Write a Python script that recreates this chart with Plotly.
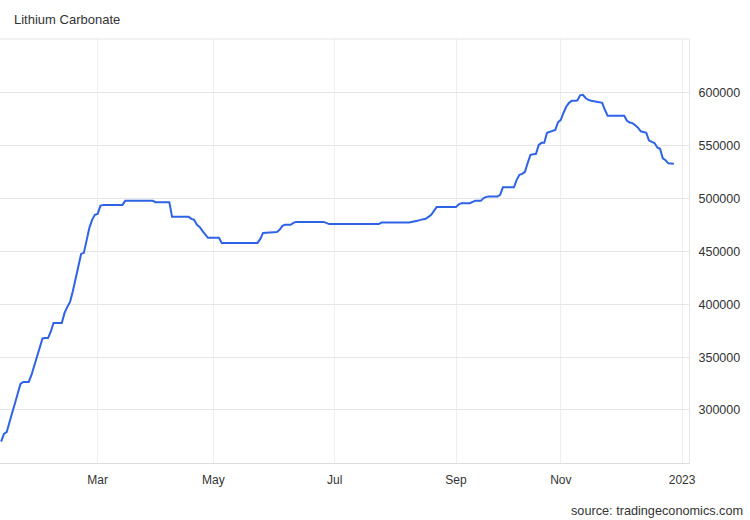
import plotly.graph_objects as go

title_text = "Lithium Carbonate"
source_text = "source: tradingeconomics.com"

dates = [
    "2022-01-04", "2022-01-05", "2022-01-06", "2022-01-07", "2022-01-10", "2022-01-11",
    "2022-01-12", "2022-01-13", "2022-01-14", "2022-01-17", "2022-01-18", "2022-01-19",
    "2022-01-20", "2022-01-21", "2022-01-24", "2022-01-25", "2022-01-26", "2022-01-27",
    "2022-01-28", "2022-02-07", "2022-02-10", "2022-02-11", "2022-02-14", "2022-02-15",
    "2022-02-16", "2022-02-17", "2022-02-18", "2022-02-21", "2022-02-22", "2022-02-23",
    "2022-02-24", "2022-02-25", "2022-02-28", "2022-03-01", "2022-03-02", "2022-03-03",
    "2022-03-14", "2022-03-15", "2022-03-29", "2022-03-30", "2022-04-08", "2022-04-11",
    "2022-04-19", "2022-04-20", "2022-04-21", "2022-04-22", "2022-04-25", "2022-04-26",
    "2022-04-27", "2022-04-28", "2022-05-04", "2022-05-05", "2022-05-24", "2022-05-25",
    "2022-05-26", "2022-06-02", "2022-06-03", "2022-06-06", "2022-06-07", "2022-06-09",
    "2022-06-10", "2022-06-13", "2022-06-27", "2022-06-28", "2022-06-29", "2022-07-25",
    "2022-07-26", "2022-08-09", "2022-08-10", "2022-08-11", "2022-08-12", "2022-08-15",
    "2022-08-16", "2022-08-17", "2022-08-18", "2022-08-19", "2022-08-22", "2022-08-23",
    "2022-09-01", "2022-09-02", "2022-09-05", "2022-09-08", "2022-09-09", "2022-09-12",
    "2022-09-14", "2022-09-15", "2022-09-16", "2022-09-19", "2022-09-22", "2022-09-23",
    "2022-09-26", "2022-09-30", "2022-10-10", "2022-10-11", "2022-10-12", "2022-10-13",
    "2022-10-14", "2022-10-17", "2022-10-19", "2022-10-20", "2022-10-21", "2022-10-24",
    "2022-10-25", "2022-10-26", "2022-10-27", "2022-10-28", "2022-10-31", "2022-11-01",
    "2022-11-02", "2022-11-03", "2022-11-04", "2022-11-07", "2022-11-08", "2022-11-09",
    "2022-11-10", "2022-11-11", "2022-11-14", "2022-11-15", "2022-11-16", "2022-11-17",
    "2022-11-18", "2022-11-21", "2022-11-22", "2022-11-23", "2022-11-24", "2022-12-02",
    "2022-12-05", "2022-12-06", "2022-12-07", "2022-12-08", "2022-12-09", "2022-12-12",
    "2022-12-13", "2022-12-14", "2022-12-15", "2022-12-16", "2022-12-19", "2022-12-20",
    "2022-12-21", "2022-12-22", "2022-12-23", "2022-12-26", "2022-12-27", "2022-12-28",
]

prices = [
    270000, 277300, 279000, 289100, 297400, 306100,
    314500, 324600, 326500, 326500, 326500, 333100,
    341700, 350200, 359200, 367700, 368000, 368000,
    374000, 382400, 382400, 391900, 397500, 402300,
    412300, 424500, 437300, 447700, 448700, 461000,
    472400, 479900, 484700, 485600, 493200, 494100,
    494100, 497900, 497900, 496700, 496700, 482800,
    482800, 480900, 479900, 475200, 473300, 469500,
    465700, 462900, 462900, 458100, 458100, 461900,
    467600, 468500, 470500, 474200, 475200, 475200,
    477100, 478000, 478000, 476600, 475900, 475900,
    477400, 477400, 477700, 478500, 479000, 479900,
    480400, 480900, 482800, 484700, 488400, 492200,
    492200, 494600, 495700, 495700, 497000, 497900,
    497900, 500500, 501700, 502000, 502000, 503600,
    510700, 510700, 517800, 522500, 523500, 525400,
    533900, 541500, 542400, 550900, 552800, 552800,
    562300, 563300, 564200, 565100, 572300, 574600,
    581300, 587200, 590700, 592600, 592600, 592900,
    597800, 598300, 595300, 593400, 592600, 592100,
    591900, 591600, 590700, 584100, 578400, 578400,
    573700, 572100, 571500, 569400, 567100, 563700,
    562800, 562300, 555000, 553800, 552600, 548400,
    547200, 538200, 536300, 533400, 533000, 533000,
]

# non-trading days (besides weekends)
holidays = [
    "2022-01-03", "2022-01-31", "2022-02-01", "2022-02-02", "2022-02-03", "2022-02-04",
    "2022-04-04", "2022-04-05",
    "2022-10-03", "2022-10-04", "2022-10-05", "2022-10-06", "2022-10-07",
    "2023-01-02",
]

x_tick_vals = ["2022-03-01", "2022-05-02", "2022-07-01", "2022-09-01", "2022-11-01", "2023-01-03"]
x_tick_text = ["Mar", "May", "Jul", "Sep", "Nov", "2023"]
y_tick_vals = [300000, 350000, 400000, 450000, 500000, 550000, 600000]

FONT = "Liberation Sans, Arial, sans-serif"

fig = go.Figure()
fig.add_trace(go.Scatter(
    x=dates, y=prices, mode="lines",
    line=dict(color="#2f63e6", width=2),
    hoverinfo="skip", showlegend=False,
))

fig.update_layout(
    width=750, height=520,
    margin=dict(l=0, r=61, t=39, b=57),
    paper_bgcolor="white", plot_bgcolor="white",
    font=dict(family=FONT, size=12, color="#333333"),
    showlegend=False,
    title=dict(text=title_text, x=14 / 750, xref="container", xanchor="left",
               y=1 - 19 / 520, yref="container", yanchor="middle",
               font=dict(family=FONT, size=13, color="#333333")),
    xaxis=dict(
        type="date",
        range=["2021-12-31 14:00", "2023-01-05 12:00"],
        rangebreaks=[dict(bounds=["sat", "mon"]), dict(values=holidays)],
        tickmode="array", tickvals=x_tick_vals, ticktext=x_tick_text,
        showgrid=True, gridcolor="#eeeeee", gridwidth=1,
        showline=True, linecolor="#dddddd", linewidth=1,
        ticks="", zeroline=False,
        tickfont=dict(family=FONT, size=12, color="#333333"),
        ticklabelstandoff=6,
    ),
    yaxis=dict(
        side="right",
        range=[249800, 651100],
        tickmode="array", tickvals=y_tick_vals,
        tickformat="d",
        showgrid=True, gridcolor="#e6e6e6", gridwidth=1,
        showline=True, linecolor="#e6e6e6", linewidth=1,
        ticks="", zeroline=False,
        tickfont=dict(family=FONT, size=12.5, color="#333333"),
        ticklabelstandoff=6,
    ),
    shapes=[dict(type="line", xref="paper", yref="paper", x0=0, x1=1, y0=1, y1=1,
                 line=dict(color="#e6e6e6", width=1))],
    annotations=[dict(text=source_text, xref="paper", yref="paper",
                      x=745 / 689, y=(463 - 511) / 424, xanchor="right", yanchor="middle",
                      showarrow=False, font=dict(family=FONT, size=12.7, color="#333333"))],
)

fig.write_html("out.html", config={"displayModeBar": False},
               post_script="document.body.style.margin='0';")
